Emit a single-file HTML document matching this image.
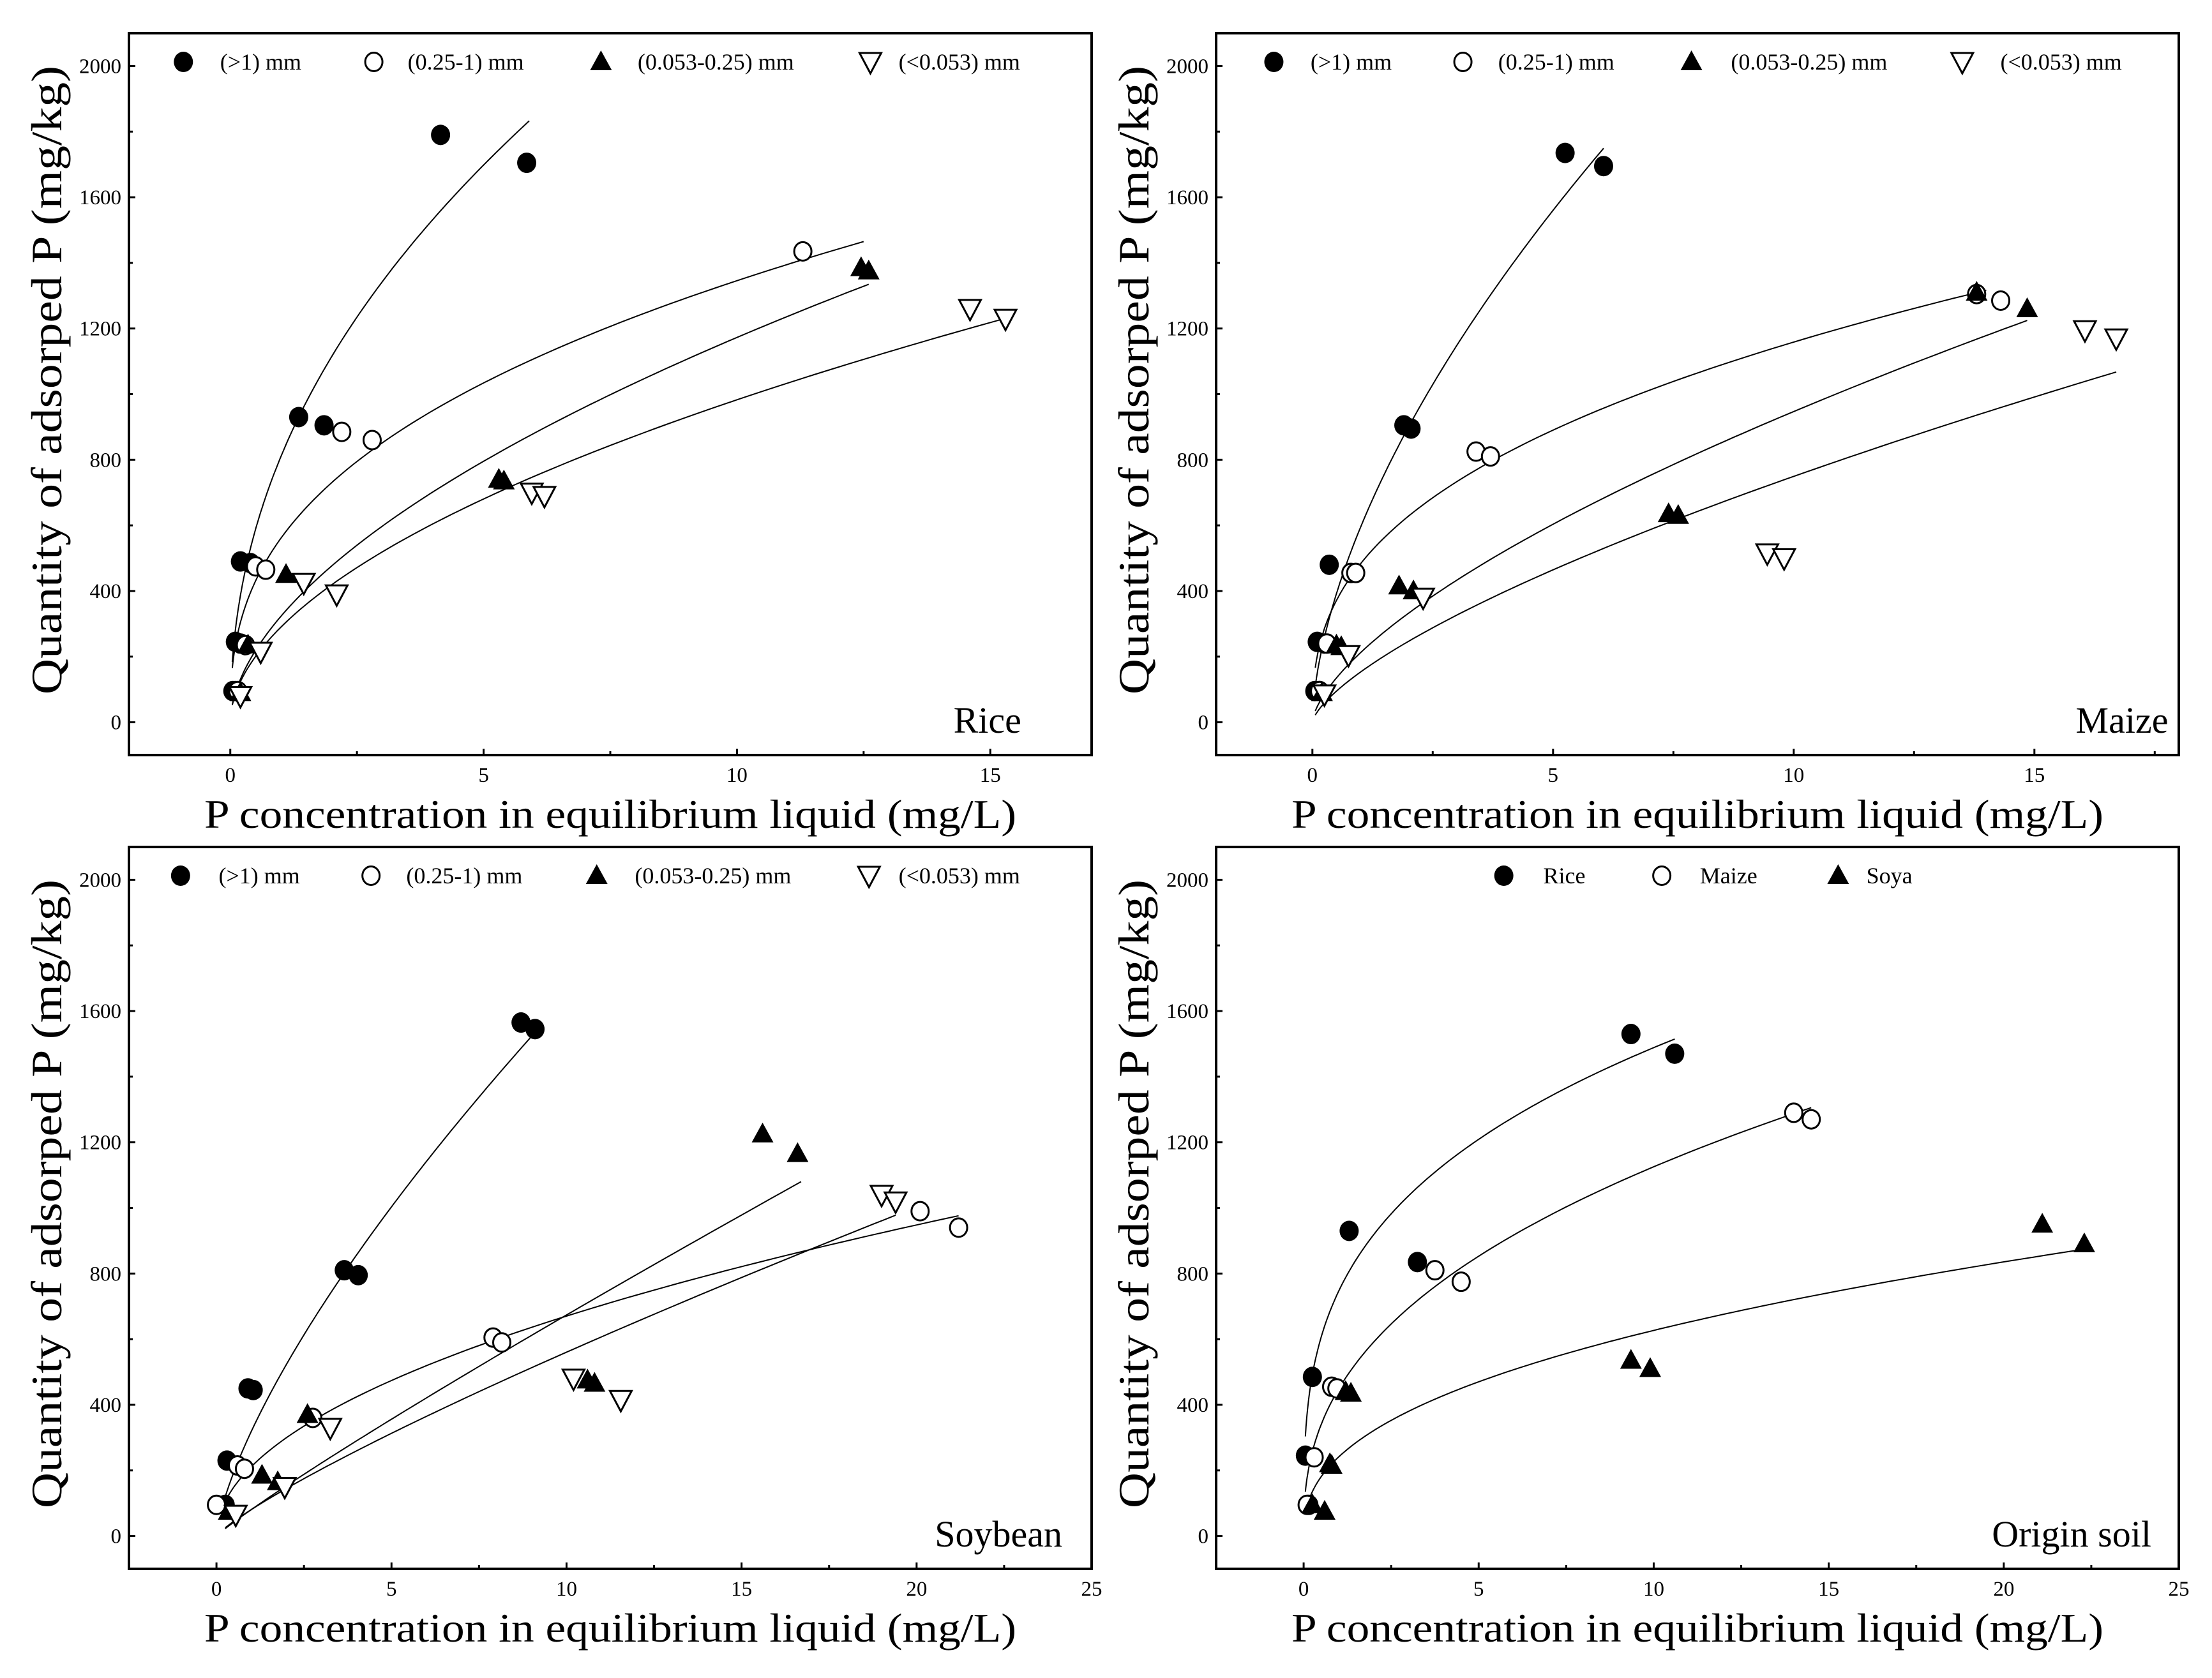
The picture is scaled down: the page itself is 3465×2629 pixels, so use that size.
<!DOCTYPE html>
<html><head><meta charset="utf-8">
<style>
html,body{margin:0;padding:0;background:#fff;}
svg{display:block;}
text{font-family:"Liberation Serif",serif;fill:#000;}
</style></head>
<body>
<svg id="fig" xmlns="http://www.w3.org/2000/svg" width="3465" height="2629" viewBox="0 0 3465 2629">
<rect x="0" y="0" width="3465" height="2629" fill="#fff"/>
</svg>
<script>
// ---------- DATA ----------
// Panel A: Rice
const riceX1=[0.05,0.1,0.1,0.2,0.2,0.4,1.35,1.85,4.15,5.85];
const riceY1=[95,95,245,240,490,485,930,905,1790,1705];
const riceX2=[0.15,0.3,0.5,0.7,2.2,2.8,11.3];
const riceY2=[95,235,475,465,885,860,1435];
const riceX3=[0.2,0.35,1.1,5.3,5.4,12.45,12.6];
const riceY3=[90,235,450,740,735,1385,1375];
const riceX4=[0.2,0.6,1.45,2.1,5.95,6.2,14.6,15.3];
const riceY4=[80,215,425,390,700,690,1260,1230];
const riceFitK=[810,561,323,290];
const riceFitN=[0.46,0.38,0.56,0.53];
const riceFitMax=[5.9,12.5,12.6,15.3];
// Panel B: Maize
const maizeX1=[0.05,0.15,0.1,0.25,0.35,1.9,2.05,5.25,6.05];
const maizeY1=[95,95,245,240,480,905,895,1735,1695];
const maizeX2=[0.15,0.3,0.8,0.9,3.4,3.7,13.8,14.3];
const maizeY2=[95,240,455,455,825,810,1305,1285];
const maizeX3=[0.2,0.5,0.6,1.8,2.1,7.4,7.6,13.8,14.85];
const maizeY3=[90,235,230,415,400,635,630,1310,1260];
const maizeX4=[0.25,0.75,2.3,9.45,9.8,16.05,16.7];
const maizeY4=[85,205,380,515,500,1195,1170];
const maizeFitK=[594,483,212,153];
const maizeFitN=[0.60,0.38,0.65,0.69];
const maizeFitMax=[6.05,14.0,14.85,16.7];
// Panel C: Soybean
const soyX1=[0.25,0.3,0.9,1.05,3.65,4.05,8.7,9.1];
const soyY1=[95,230,450,445,810,795,1565,1545];
const soyX2=[0.0,0.6,0.8,2.75,7.9,8.15,20.1,21.2];
const soyY2=[95,215,205,360,605,590,990,940];
const soyX3=[0.35,1.3,1.75,2.6,10.6,10.8,15.6,16.6];
const soyY3=[75,185,165,370,475,465,1225,1165];
const soyX4=[0.55,1.95,3.25,10.2,11.55,19.0,19.4];
const soyY4=[65,150,330,480,415,1040,1020];
const soyFitK=[320,212,81,81];
const soyFitN=[0.71,0.5,0.92,0.84];
const soyFitMax=[9.0,21.2,16.7,19.4];
// Panel D: Origin soil
const orgX1=[0.05,0.15,0.25,1.3,3.25,9.35,10.6];
const orgY1=[245,95,485,930,835,1530,1470];
const orgX2=[0.1,0.3,0.8,0.95,3.75,4.5,14.0,14.5];
const orgY2=[95,240,455,450,810,775,1290,1270];
const orgX3=[0.25,0.6,0.8,0.75,1.2,1.35,9.35,9.9,21.1,22.3];
const orgY3=[95,75,215,220,440,435,535,510,950,890];
const orgFitK=[746,448,241];
const orgFitN=[0.30,0.40,0.415];
const orgFitMax=[10.6,14.5,22.3];

const sizeLabels=["(>1) mm","(0.25-1) mm","(0.053-0.25) mm","(<0.053) mm"];
const cropLabels=["Rice","Maize","Soya"];
const yTicks=[0,400,800,1200,1600,2000];

// ---------- DRAW ----------
const NS="http://www.w3.org/2000/svg";
const svg=document.getElementById('fig');
function mk(tag,attrs,parent){const e=document.createElementNS(NS,tag);for(const k in attrs)e.setAttribute(k,attrs[k]);(parent||svg).appendChild(e);return e;}

function marker(g,type,cx,cy){
  let e;
  if(type===0){e=mk('ellipse',{cx:cx,cy:cy,rx:15,ry:16,fill:'#000'},g);}
  else if(type===1){e=mk('ellipse',{cx:cx,cy:cy,rx:13.5,ry:14.5,fill:'#fff',stroke:'#000','stroke-width':3},g);}
  else if(type===2){e=mk('polygon',{points:`${cx},${cy-18} ${cx+17},${cy+13} ${cx-17},${cy+13}`,fill:'#000'},g);}
  else {e=mk('polygon',{points:`${cx-17},${cy-14} ${cx+17},${cy-14} ${cx},${cy+18}`,fill:'#fff',stroke:'#000','stroke-width':3},g);}
  return e;
}

function panel(p){
  const g=mk('g',{});
  
  
  const L=p.left,R=p.left+1508,T=p.top,B=p.top+1131;
  const sx=v=>L+(v-p.xmin)/(p.xmax-p.xmin)*(R-L);
  const sy=v=>B-(v-(-100))/(2200)*(B-T);
  const fr=mk('rect',{x:L,y:T,width:R-L,height:B-T,fill:'none',stroke:'#000','stroke-width':4},g);
  
  
  for(let v=0;v<=p.xmax+1e-9;v+=p.xstep/2){
    const major=Math.abs(v/p.xstep-Math.round(v/p.xstep))<1e-6;
    mk('line',{x1:sx(v),x2:sx(v),y1:B,y2:B-(major?10:6),stroke:'#000','stroke-width':3},g);
    if(major){const t=mk('text',{x:sx(v),y:B+42,'font-size':33,'text-anchor':'middle'},g);t.textContent=String(Math.round(v));
      }
  }
  for(let v=0;v<=2000;v+=200){
    const major=v%400===0;
    mk('line',{x1:L,x2:L+(major?10:6),y1:sy(v),y2:sy(v),stroke:'#000','stroke-width':3},g);
  }
  yTicks.forEach(v=>{const t=mk('text',{x:L-12,y:sy(v)+11,'font-size':33,'text-anchor':'end'},g);t.textContent=String(v);
    });
  p.fits.K.forEach((K,i)=>{
    let d='';const x0=p.fitMin, x1=p.fits.max[i];
    for(let k=0;k<=120;k++){const x=x0+(x1-x0)*Math.pow(k/120,2);const y=K*Math.pow(x,p.fits.n[i]);d+=(k?'L':'M')+sx(x).toFixed(1)+','+sy(y).toFixed(1);}
    const c=mk('path',{d:d,fill:'none',stroke:'#000','stroke-width':2},g);
    
    
  });
  p.series.forEach((s,i)=>{
    s.x.forEach((xv,j)=>{const m=marker(g,s.type,sx(xv),sy(s.y[j]));
      
      });
  });
  p.legend.forEach((lg,i)=>{
    const m=marker(g,lg.type,lg.mx,T+45);
    
    
    const t=mk('text',{x:lg.tx,y:T+57,'font-size':36},g);t.textContent=lg.label;
    
    
  });
  const pl=mk('text',{x:p.labelX,y:B-35,'font-size':58,'text-anchor':'end'},g);pl.textContent=p.label;
  
  
  const xt=mk('text',{x:(L+R)/2,y:B+114,'font-size':64,'text-anchor':'middle',textLength:1272,lengthAdjust:'spacingAndGlyphs'},g);
  xt.textContent='P concentration in equilibrium liquid (mg/L)';
  
  
  const cy=(T+B)/2-22, cx=L-106;
  const yt=mk('text',{x:cx,y:cy,'font-size':68,'text-anchor':'middle',transform:`rotate(-90 ${cx} ${cy})`,textLength:985,lengthAdjust:'spacingAndGlyphs'},g);
  yt.textContent='Quantity of adsorped P (mg/kg)';
  
  
}
const k=2.2098;
function sizeLegend(a){return a.map((v,i)=>({type:i,mx:v[0]*k,tx:v[1]*k,label:sizeLabels[i]}));}

panel({name:'rice-panel',left:202,top:52,xmin:-2,xmax:17,xstep:5,label:'Rice',labelX:724*k,fitMin:0.04,
  fits:{K:riceFitK,n:riceFitN,max:riceFitMax},
  series:[{type:0,x:riceX1,y:riceY1},{type:1,x:riceX2,y:riceY2},{type:2,x:riceX3,y:riceY3},{type:3,x:riceX4,y:riceY4}],
  legend:sizeLegend([[130,156],[265,289],[426,452],[617,637]])});
panel({name:'maize-panel',left:1905,top:52,xmin:-2,xmax:18,xstep:5,label:'Maize',labelX:1537*k,fitMin:0.06,
  fits:{K:maizeFitK,n:maizeFitN,max:maizeFitMax},
  series:[{type:0,x:maizeX1,y:maizeY1},{type:1,x:maizeX2,y:maizeY2},{type:2,x:maizeX3,y:maizeY3},{type:3,x:maizeX4,y:maizeY4}],
  legend:sizeLegend([[903,929],[1037,1062],[1199,1227],[1391,1418]])});
panel({name:'soybean-panel',left:202,top:1327,xmin:-2.5,xmax:25,xstep:5,label:'Soybean',labelX:753*k,fitMin:0.25,
  fits:{K:soyFitK,n:soyFitN,max:soyFitMax},
  series:[{type:0,x:soyX1,y:soyY1},{type:1,x:soyX2,y:soyY2},{type:2,x:soyX3,y:soyY3},{type:3,x:soyX4,y:soyY4}],
  legend:sizeLegend([[128,155],[263,288],[423,450],[616,637]])});
panel({name:'origin-soil-panel',left:1905,top:1327,xmin:-2.5,xmax:25,xstep:5,label:'Origin soil',labelX:1525*k,fitMin:0.05,
  fits:{K:orgFitK,n:orgFitN,max:orgFitMax},
  series:[{type:0,x:orgX1,y:orgY1},{type:1,x:orgX2,y:orgY2},{type:2,x:orgX3,y:orgY3}],
  legend:[[1066,1094],[1178,1205],[1303,1323]].map((v,i)=>({type:i,mx:v[0]*k,tx:v[1]*k,label:cropLabels[i]}))});
</script>
</body></html>
